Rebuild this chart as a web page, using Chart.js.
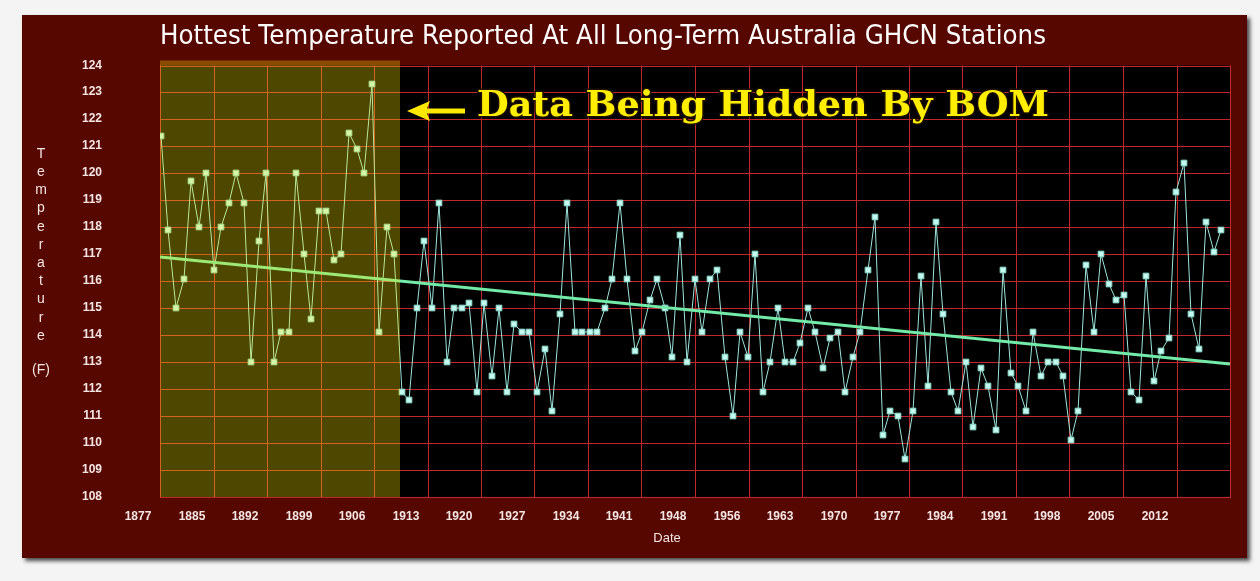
<!DOCTYPE html>
<html>
<head>
<meta charset="utf-8">
<title>Hottest Temperature Reported At All Long-Term Australia GHCN Stations</title>
<script src="https://cdn.jsdelivr.net/npm/chart.js@4.4.1/dist/chart.umd.min.js"></script>
<style>
  html, body { margin: 0; padding: 0; background: #f4f4f4; }
  #frame {
    position: absolute; left: 22px; top: 15px; width: 1225px; height: 543px;
    background: #560800; box-shadow: 3px 3px 4px rgba(0,0,0,0.7);
  }
  canvas { display: block; }
</style>
</head>
<body>
<div id="frame"><canvas id="tempChart" width="1225" height="543"></canvas></div>
<script>
// =============================
// Data
// =============================
const firstYear = 1880;
const maxTemps = [
  121.4, 117.9, 115.0, 116.1, 119.7, 118.0, 120.0, 116.4, 118.0, 118.9,
  120.0, 118.9, 113.0, 117.5, 120.0, 113.0, 114.1, 114.1, 120.0, 117.0,
  114.6, 118.6, 118.6, 116.8, 117.0, 121.5, 120.9, 120.0, 123.3, 114.1,
  118.0, 117.0, 111.9, 111.6, 115.0, 117.5, 115.0, 118.9, 113.0, 115.0,
  115.0, 115.2, 111.9, 115.2, 112.5, 115.0, 111.9, 114.4, 114.1, 114.1,
  111.9, 113.5, 111.2, 114.8, 118.9, 114.1, 114.1, 114.1, 114.1, 115.0,
  116.1, 118.9, 116.1, 113.4, 114.1, 115.3, 116.1, 115.0, 113.2, 117.7,
  113.0, 116.1, 114.1, 116.1, 116.4, 113.2, 111.0, 114.1, 113.2, 117.0,
  111.9, 113.0, 115.0, 113.0, 113.0, 113.7, 115.0, 114.1, 112.8, 113.9,
  114.1, 111.9, 113.2, 114.1, 116.4, 118.4, 110.3, 111.2, 111.0, 109.4,
  111.2, 116.2, 112.1, 118.2, 114.8, 111.9, 111.2, 113.0, 110.6, 112.8,
  112.1, 110.5, 116.4, 112.6, 112.1, 111.2, 114.1, 112.5, 113.0, 113.0,
  112.5, 110.1, 111.2, 116.6, 114.1, 117.0, 115.9, 115.3, 115.5, 111.9,
  111.6, 116.2, 112.3, 113.4, 113.9, 119.3, 120.4, 114.8, 113.5, 118.2,
  117.1, 117.9
];
// trend line end values (at the left and right edge of the plot)
const trendValues = [116.9, 112.93];

// axis range and labels
const xRange = [1879.87, 2022.15];
const hiddenUntil = 1911.8;
const dateLabels = ["1877", "1885", "1892", "1899", "1906", "1913", "1920", "1927", "1934", "1941",
  "1948", "1956", "1963", "1970", "1977", "1984", "1991", "1998", "2005", "2012", ""];
const tempRange = [108, 124];

const chartTitle = "Hottest Temperature Reported At All Long-Term Australia GHCN Stations";
const noteText = "Data Being Hidden By BOM";

// =============================
// Colours
// =============================
const gridRed = "#c0282c";
const textLight = "#f4e4e4";

const gridStep = (xRange[1] - xRange[0]) / (dateLabels.length - 1);

// =============================
// Extra drawing: plot background, shaded period, texts
// =============================
const decorPlugin = {
  id: "decor",
  beforeDraw(chart) {
    const { ctx, chartArea: a } = chart;
    ctx.save();
    ctx.fillStyle = "#000";
    ctx.fillRect(a.left, a.top, a.right - a.left, a.bottom - a.top);
    ctx.restore();
  },
  afterDatasetsDraw(chart) {
    const { ctx, chartArea: a, scales: { x, y } } = chart;
    const xEnd = x.getPixelForValue(hiddenUntil);
    ctx.save();
    ctx.fillStyle = "rgba(255,235,0,0.3)";
    ctx.fillRect(a.left, a.top - 5, xEnd - a.left, a.bottom - a.top + 5);

    // arrow
    const ay = y.getPixelForValue(122.3);
    const tip = xEnd + 7;
    ctx.fillStyle = "#ffe800";
    ctx.beginPath();
    ctx.moveTo(tip, ay);
    ctx.lineTo(tip + 23, ay - 10);
    ctx.lineTo(tip + 20, ay - 2.5);
    ctx.lineTo(tip + 58, ay - 2.5);
    ctx.lineTo(tip + 58, ay + 2.5);
    ctx.lineTo(tip + 20, ay + 2.5);
    ctx.lineTo(tip + 23, ay + 10);
    ctx.closePath();
    ctx.fill();

    // note text
    ctx.font = "bold 36px 'DejaVu Serif'";
    ctx.textBaseline = "middle";
    ctx.textAlign = "left";
    const w = ctx.measureText(noteText).width;
    ctx.translate(xEnd + 77, y.getPixelForValue(122.45));
    ctx.scale(572 / w, 1);
    ctx.lineJoin = "round";
    ctx.lineWidth = 3;
    ctx.strokeStyle = "#1c1000";
    ctx.strokeText(noteText, 0, 0);
    ctx.fillStyle = "#ffee00";
    ctx.fillText(noteText, 0, 0);
    ctx.restore();
  },
  afterDraw(chart) {
    const { ctx, chartArea: a } = chart;
    ctx.save();
    ctx.fillStyle = "#ffffff";
    ctx.textBaseline = "middle";

    // title
    ctx.font = "26px 'DejaVu Sans'";
    ctx.textAlign = "left";
    const tw = ctx.measureText(chartTitle).width;
    ctx.save();
    ctx.translate(a.left, 22);
    ctx.scale(886 / tw, 1);
    ctx.fillText(chartTitle, 0, 0);
    ctx.restore();

    // y title as stacked letters
    ctx.fillStyle = textLight;
    ctx.font = "14px 'Liberation Sans'";
    ctx.textAlign = "center";
    "Temperature".split("").forEach((ch, i) => {
      ctx.fillText(ch, 19, 139 + i * 18.2);
    });
    ctx.fillText("(F)", 19, 355);

    // x title
    ctx.font = "13px 'Liberation Sans'";
    ctx.fillText("Date", 645, 523);
    ctx.restore();
  }
};

// =============================
// Chart
// =============================
const ctx = document.getElementById("tempChart").getContext("2d");

new Chart(ctx, {
  type: "line",
  data: {
    datasets: [
      {
        label: "Trend",
        data: [
          { x: xRange[0], y: trendValues[0] },
          { x: xRange[1], y: trendValues[1] }
        ],
        borderColor: "#72eaa8",
        borderWidth: 3,
        pointRadius: 0
      },
      {
        label: "Hottest temperature",
        data: maxTemps.map((v, i) => ({ x: firstYear + i, y: v })),
        borderColor: "#9de6dc",
        borderWidth: 1,
        pointStyle: "rect",
        pointRadius: 4,
        pointBackgroundColor: "#c4fbef",
        pointBorderColor: "#8fdccf",
        pointBorderWidth: 1,
        tension: 0
      }
    ]
  },
  options: {
    responsive: false,
    animation: false,
    layout: { padding: { top: 50.5, right: 17, left: 0, bottom: 0 } },
    plugins: {
      legend: { display: false },
      tooltip: { enabled: false },
      title: { display: false }
    },
    scales: {
      x: {
        type: "linear",
        min: xRange[0],
        max: xRange[1],
        alignToPixels: true,
        afterBuildTicks: scale => {
          scale.ticks = dateLabels.map((_, i) => ({ value: xRange[0] + i * gridStep }));
        },
        afterFit: scale => { scale.height = 61; },
        grid: { color: gridRed, lineWidth: 1, drawTicks: false },
        border: { color: gridRed },
        ticks: {
          autoSkip: false,
          maxRotation: 0,
          padding: 12,
          labelOffset: -22,
          color: textLight,
          font: { family: "'Liberation Sans'", size: 12, weight: "bold" },
          callback: (value, index) => dateLabels[index]
        }
      },
      y: {
        min: tempRange[0],
        max: tempRange[1],
        alignToPixels: true,
        afterFit: scale => { scale.width = 138; },
        // long invisible tick marks push the labels away from the plot
        grid: { color: gridRed, lineWidth: 1, drawTicks: true, tickLength: 58, tickColor: "rgba(0,0,0,0)" },
        border: { color: gridRed },
        ticks: {
          stepSize: 1,
          padding: 0,
          color: textLight,
          font: { family: "'Liberation Sans'", size: 12, weight: "bold" }
        }
      }
    }
  },
  plugins: [decorPlugin]
});
</script>
</body>
</html>
